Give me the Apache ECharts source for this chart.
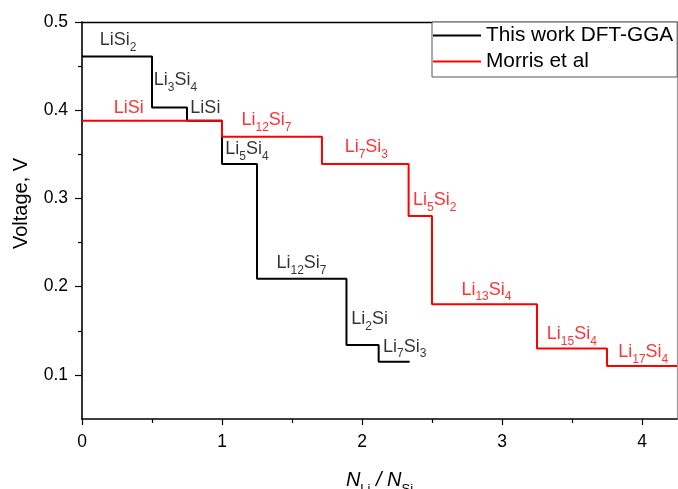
<!DOCTYPE html>
<html>
<head>
<meta charset="utf-8">
<script src="https://cdn.jsdelivr.net/npm/echarts@6/dist/echarts.min.js"></script>
<style>
  html, body { margin: 0; padding: 0; background: #fff; }
  #chart { width: 678px; height: 489px; }
</style>
</head>
<body>
<div id="chart"></div>
<script>
// Step boundaries (N_Li / N_Si) and plateau voltages (V)
var dftEdges    = [0, 0.5, 0.75, 1.0, 1.25, 1.889, 2.119, 2.34];
var dftVoltage  = [0.461, 0.403, 0.388, 0.339, 0.209, 0.134, 0.115];
var morrisEdges   = [0, 1.0, 1.714, 2.333, 2.5, 3.25, 3.75, 4.25];
var morrisVoltage = [0.388, 0.370, 0.339, 0.280, 0.180, 0.130, 0.110];

// Phase labels (rich text, {s|..} = subscript) and their anchor points
var dftPhases  = ['LiSi{s|2}', 'Li{s|3}Si{s|4}', 'LiSi', 'Li{s|5}Si{s|4}', 'Li{s|12}Si{s|7}', 'Li{s|2}Si', 'Li{s|7}Si{s|3}'];
var dftLabelX  = [0.126, 0.513, 0.774, 1.024, 1.389, 1.924, 2.15];
var dftLabelY  = [0.479, 0.434, 0.4025, 0.356, 0.227, 0.163, 0.132];
var morrisPhases = ['LiSi', 'Li{s|12}Si{s|7}', 'Li{s|7}Si{s|3}', 'Li{s|5}Si{s|2}', 'Li{s|13}Si{s|4}', 'Li{s|15}Si{s|4}', 'Li{s|17}Si{s|4}'];
var morrisLabelX = [0.226, 1.139, 1.876, 2.364, 2.71, 3.32, 3.83];
var morrisLabelY = [0.4025, 0.389, 0.358, 0.298, 0.1966, 0.146, 0.126];

// Axis ticks
var xMajorTicks = [0, 1, 2, 3, 4];
var xMinorTicks = [0.5, 1.5, 2.5, 3.5];
var yMajorTicks = [0.1, 0.2, 0.3, 0.4, 0.5];
var yMinorTicks = [0.15, 0.25, 0.35, 0.45];

var seriesNames = ['This work DFT-GGA', 'Morris et al'];
var FONT = '"Liberation Sans", Arial, Helvetica, sans-serif';

function stepPoints(edges, volts) {
  var pts = [];
  for (var i = 0; i < volts.length; i++) pts.push([edges[i], volts[i]]);
  pts.push([edges[edges.length - 1], volts[volts.length - 1]]);
  return pts;
}
function labelPoints(xs, ys) {
  return xs.map(function (x, i) { return [x, ys[i]]; });
}
function labelSeries(xs, ys, names, color) {
  return {
    type: 'scatter',
    data: labelPoints(xs, ys),
    symbolSize: 0,
    silent: true,
    z: 5,
    label: {
      show: true,
      position: 'right',
      distance: 0,
      color: color,
      fontFamily: FONT,
      fontSize: 18,
      formatter: function (p) { return names[p.dataIndex]; },
      rich: {
        s: { fontSize: 12, fontFamily: FONT, color: color, padding: [15, 0, 0, 0] }
      }
    }
  };
}

var chart = echarts.init(document.getElementById('chart'), null, { renderer: 'canvas' });

var tickStyle = { color: '#000', width: 1.2 };

chart.setOption({
  animation: false,
  backgroundColor: '#fff',
  grid: { left: 82, top: 22, right: 1, bottom: 70, containLabel: false, outerBoundsMode: 'none' },
  legend: {
    orient: 'vertical',
    left: 432,
    top: 22,
    data: seriesNames,
    icon: 'rect',
    itemWidth: 48,
    itemHeight: 2,
    itemGap: 5,
    padding: [3, 4, 5, 1],
    backgroundColor: '#fff',
    borderColor: '#555',
    borderWidth: 1,
    borderRadius: 0,
    textStyle: { fontFamily: FONT, fontSize: 20.8, color: '#000', padding: [0, 0, 0, 0] },
    selectedMode: false
  },
  xAxis: [
    {
      type: 'value', min: 0, max: 4.25, position: 'bottom',
      name: '{n|N}{sub|Li}{n| / N}{sub|Si}',
      nameLocation: 'middle', nameGap: 46,
      nameTextStyle: {
        rich: {
          n: { fontFamily: FONT, fontSize: 20, fontStyle: 'italic', color: '#000' },
          sub: { fontFamily: FONT, fontSize: 13, color: '#000', padding: [18, 0, 0, 0] }
        }
      },
      axisLine: { show: true, onZero: false, lineStyle: { color: '#000', width: 1.6 } },
      axisTick: { show: true, inside: false, length: 6, customValues: xMajorTicks, lineStyle: tickStyle },
      axisLabel: { customValues: xMajorTicks, margin: 14, fontFamily: FONT, fontSize: 17.5, color: '#000' },
      splitLine: { show: false }
    },
    {
      type: 'value', min: 0, max: 4.25, position: 'bottom',
      axisLine: { show: false },
      axisTick: { show: true, length: 4, customValues: xMinorTicks, lineStyle: tickStyle },
      axisLabel: { show: false },
      splitLine: { show: false }
    },
    {
      type: 'value', min: 0, max: 4.25, position: 'top',
      axisLine: { show: true, onZero: false, lineStyle: { color: '#000', width: 1.4 } },
      axisTick: { show: false }, axisLabel: { show: false }, splitLine: { show: false }
    }
  ],
  yAxis: [
    {
      type: 'value', min: 0.05, max: 0.5, position: 'left',
      name: 'Voltage, V',
      nameLocation: 'middle', nameGap: 51, nameRotate: 90,
      nameTextStyle: { fontFamily: FONT, fontSize: 20, color: '#000', padding: [0, 0, 0, 34] },
      axisLine: { show: true, onZero: false, lineStyle: { color: '#000', width: 1.6 } },
      axisTick: { show: true, length: 7, customValues: yMajorTicks, lineStyle: tickStyle },
      axisLabel: {
        customValues: yMajorTicks, margin: 14, fontFamily: FONT, fontSize: 17.5, color: '#000',
        formatter: function (v) { return v.toFixed(1); }
      },
      splitLine: { show: false }
    },
    {
      type: 'value', min: 0.05, max: 0.5, position: 'left',
      axisLine: { show: false },
      axisTick: { show: true, length: 4, customValues: yMinorTicks, lineStyle: tickStyle },
      axisLabel: { show: false },
      splitLine: { show: false }
    },
    {
      type: 'value', min: 0.05, max: 0.5, position: 'right',
      axisLine: { show: true, onZero: false, lineStyle: { color: '#999', width: 1.2 } },
      axisTick: { show: false }, axisLabel: { show: false }, splitLine: { show: false }
    }
  ],
  series: [
    {
      name: seriesNames[0],
      type: 'line',
      step: 'end',
      data: stepPoints(dftEdges, dftVoltage),
      showSymbol: false,
      symbol: 'none',
      color: '#000',
      lineStyle: { color: '#000', width: 2 },
      z: 2
    },
    {
      name: seriesNames[1],
      type: 'line',
      step: 'end',
      data: stepPoints(morrisEdges, morrisVoltage),
      showSymbol: false,
      symbol: 'none',
      color: '#ff0000',
      lineStyle: { color: '#ff0000', width: 2 },
      z: 3
    },
    labelSeries(dftLabelX, dftLabelY, dftPhases, '#000'),
    labelSeries(morrisLabelX, morrisLabelY, morrisPhases, '#ff0000')
  ]
});
</script>
</body>
</html>
